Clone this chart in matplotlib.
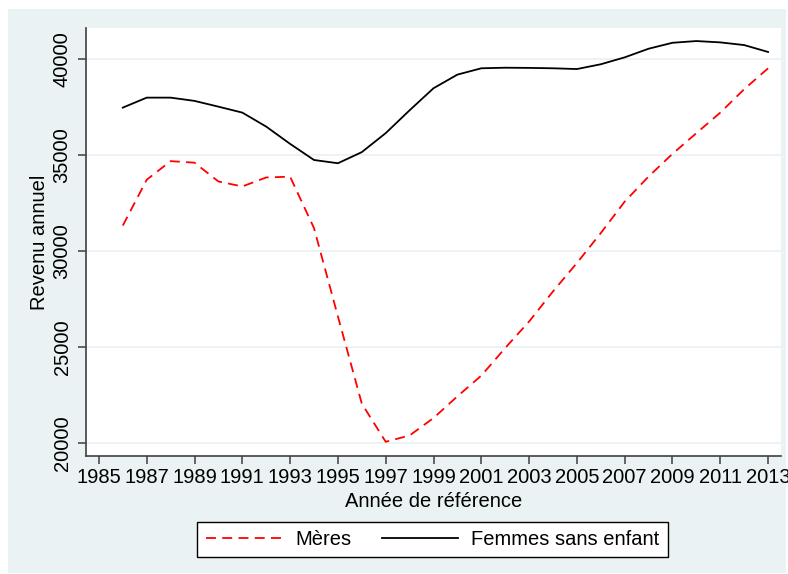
"""
Revenu annuel des mères et des femmes sans enfant, par année de référence.
"""

import numpy as np
import matplotlib.pyplot as plt
from matplotlib.patches import Rectangle

plt.rcParams['font.family'] = ['Liberation Sans', 'DejaVu Sans']

# data
annees = list(range(1986, 2014))
meres = [31330, 33720, 34690, 34610, 33630, 33370, 33840, 33880,
         31200, 26600, 22050, 20060, 20390, 21300, 22430, 23510,
         24950, 26330, 27900, 29380, 30940, 32580, 33890, 35070,
         36150, 37220, 38440, 39530]
sans_enfant = [37480, 38000, 38000, 37830, 37530, 37220, 36490, 35590,
               34750, 34580, 35160, 36150, 37340, 38490, 39200, 39530,
               39560, 39550, 39530, 39490, 39740, 40100, 40550, 40860,
               40950, 40880, 40740, 40380]
xticks = list(range(1985, 2014, 2))
yticks = [20000, 25000, 30000, 35000, 40000]

bg = '#EAF2F3'
fs = 14.5

fig = plt.figure(figsize=(7.88, 5.74), dpi=100, facecolor='white')
# stata-like graph region, behind the axes
fig.patches.append(Rectangle((8 / 788, 1 - 573 / 574), 778 / 788, 564 / 574,
                             transform=fig.transFigure, facecolor=bg,
                             edgecolor='none', zorder=-10))

ax = fig.add_axes([86 / 788, 1 - 456 / 574, 695 / 788, 428 / 574])
ax.set_zorder(1)
ax.set_facecolor('white')

ax.plot(annees, meres, color='red', lw=1.3, dashes=[5.5, 3.5], label='Mères')
ax.plot(annees, sans_enfant, color='black', lw=1.3, label='Femmes sans enfant')

# formatting
ax.set_xlim(1984.46, 2013.54)
ax.set_ylim(19320, 41630)
ax.set_xticks(xticks)
ax.set_yticks(yticks)
ax.set_yticklabels([str(v) for v in yticks], rotation=90, va='center')
ax.tick_params(axis='both', labelsize=fs, length=5.8, width=1.1,
               color='#404040', direction='out')
ax.tick_params(axis='x', pad=2.5)
ax.tick_params(axis='y', pad=4.5)
ax.yaxis.grid(True, color=bg, lw=1.3)
ax.set_axisbelow(True)

for side in ['top', 'right']:
    ax.spines[side].set_visible(False)
for side in ['left', 'bottom']:
    ax.spines[side].set_color('#404040')
    ax.spines[side].set_linewidth(1.2)

ax.set_xlabel("Année de référence", fontsize=fs, labelpad=4)
ax.set_ylabel("Revenu annuel", fontsize=fs, labelpad=3)

leg = fig.legend(loc='center', bbox_to_anchor=(432.5 / 788, 1 - 539.5 / 574),
                 ncol=2, fontsize=fs, frameon=True, fancybox=False,
                 framealpha=1.0, handlelength=3.8, handletextpad=0.65,
                 columnspacing=1.5, borderpad=0.42)
leg.get_frame().set_edgecolor('black')
leg.get_frame().set_linewidth(1.0)
leg.get_frame().set_facecolor('white')

plt.savefig("out.png", dpi=100, facecolor='white')
